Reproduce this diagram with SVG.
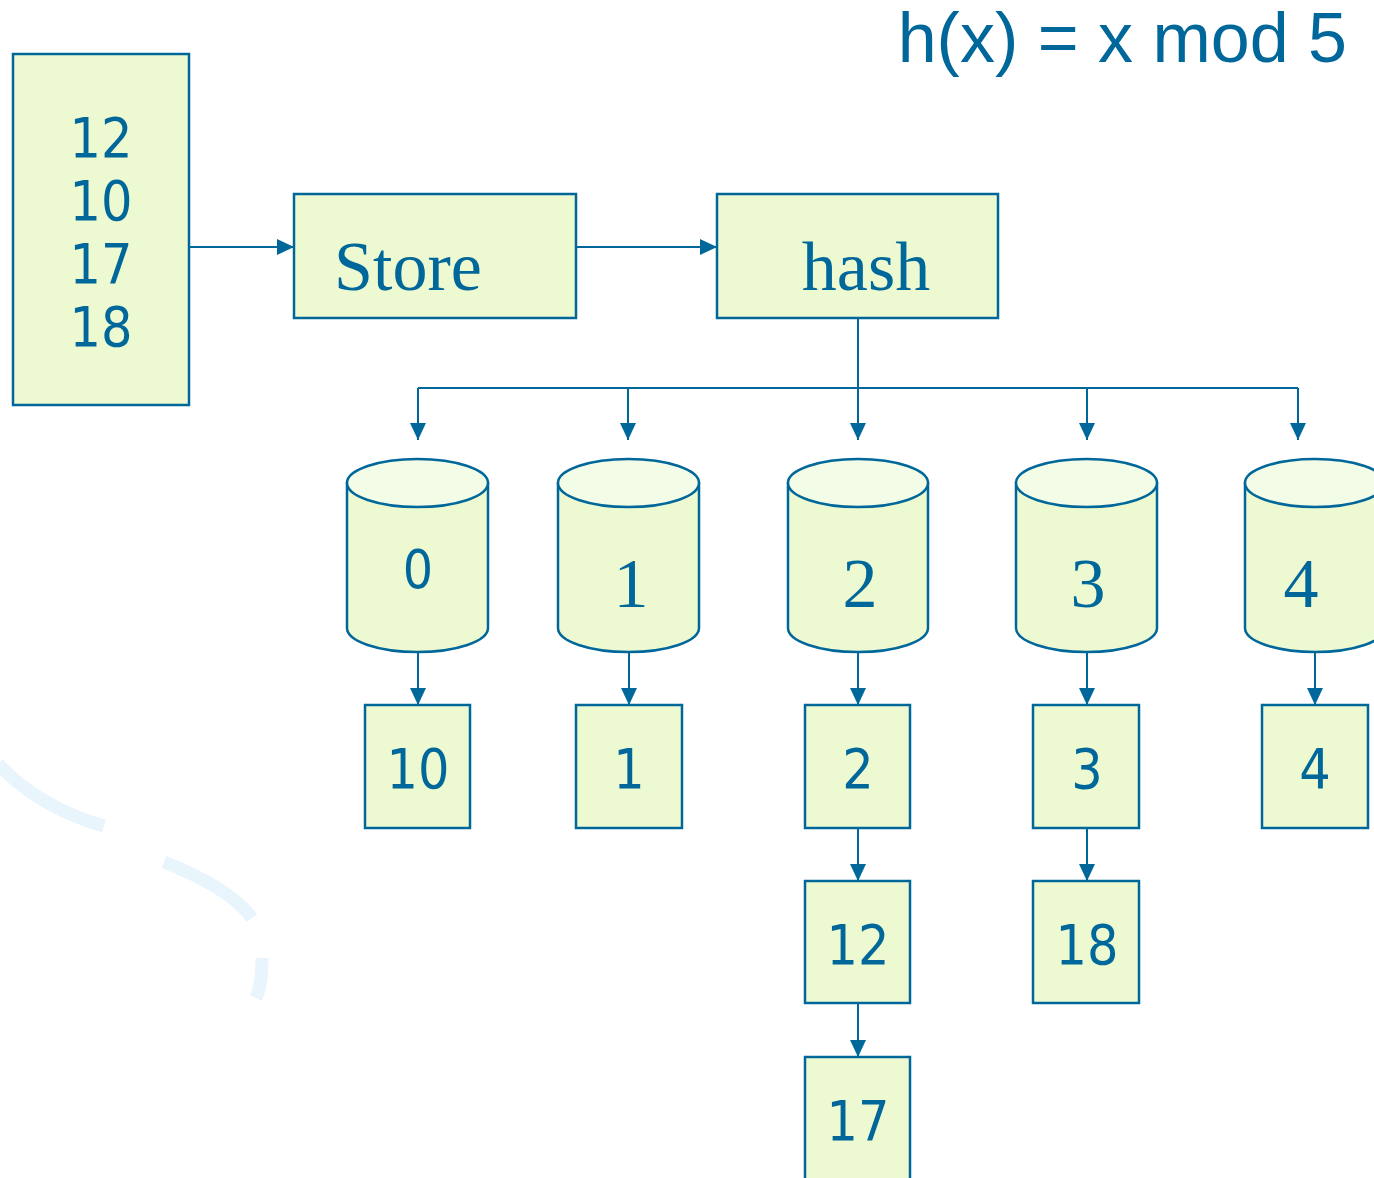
<svg xmlns="http://www.w3.org/2000/svg" width="1374" height="1178" viewBox="0 0 1374 1178">
<style>
.box{fill:#edf9d1;stroke:#00679a;stroke-width:2.5}
.cyl{fill:#edf9d1;stroke:#00679a;stroke-width:2.5}
.top{fill:#f3fce6;stroke:#00679a;stroke-width:2.5}
.ln{fill:none;stroke:#00679a;stroke-width:2}
.sans{font-family:'DejaVu Sans Condensed','DejaVu Sans',sans-serif;font-stretch:condensed;fill:#00679a;font-size:55px;text-anchor:middle}
.serif{font-family:'Liberation Serif','Times New Roman',serif;fill:#00679a;font-size:70px;text-anchor:middle}
.sw{fill:none;stroke:#e8f5fd;stroke-width:13}
</style>
<defs>
<marker id="ah" viewBox="0 0 17 16" refX="17" refY="8" markerWidth="17" markerHeight="16" markerUnits="userSpaceOnUse" orient="auto">
<path d="M0,0 L17,8 L0,16 z" fill="#00679a"/>
</marker>
</defs>
<rect width="1374" height="1178" fill="#ffffff"/>
<g id="background">
<path class="sw" d="M-2,764 Q40,808 104,826"/>
<path class="sw" d="M164,862 Q230,888 252,918"/>
<path class="sw" d="M262,958 Q262,985 256,998"/>
</g>
<text x="1347" y="62" font-family="'Liberation Sans',Arial,sans-serif" font-size="70" fill="#00679a" text-anchor="end">h(x) = x mod 5</text>
<g id="connectors">
<path class="ln" d="M189,247 H294" marker-end="url(#ah)"/>
<path class="ln" d="M576,247 H717" marker-end="url(#ah)"/>
<path class="ln" d="M858,318 V388"/>
<path class="ln" d="M418,388 H1298"/>
<path class="ln" d="M418,388 V440" marker-end="url(#ah)"/>
<path class="ln" d="M628,388 V440" marker-end="url(#ah)"/>
<path class="ln" d="M858,388 V440" marker-end="url(#ah)"/>
<path class="ln" d="M1087,388 V440" marker-end="url(#ah)"/>
<path class="ln" d="M1298,388 V440" marker-end="url(#ah)"/>
<path class="ln" d="M418,652 V705" marker-end="url(#ah)"/>
<path class="ln" d="M629,652 V705" marker-end="url(#ah)"/>
<path class="ln" d="M858,652 V705" marker-end="url(#ah)"/>
<path class="ln" d="M1087,652 V705" marker-end="url(#ah)"/>
<path class="ln" d="M1315,652 V705" marker-end="url(#ah)"/>
<path class="ln" d="M858,828 V881" marker-end="url(#ah)"/>
<path class="ln" d="M1087,828 V881" marker-end="url(#ah)"/>
<path class="ln" d="M858,1003 V1057" marker-end="url(#ah)"/>
</g>
<g id="input">
<rect class="box" x="13" y="54" width="176" height="351"/>
<text class="sans" x="101" y="157">12</text>
<text class="sans" x="101" y="220">10</text>
<text class="sans" x="101" y="283">17</text>
<text class="sans" x="101" y="346">18</text>
</g>
<g id="store">
<rect class="box" x="294" y="194" width="282" height="124"/>
<text class="serif" x="408" y="290">Store</text>
</g>
<g id="hash">
<rect class="box" x="717" y="194" width="281" height="124"/>
<text class="serif" x="866" y="290">hash</text>
</g>
<g id="bucket0">
<path class="cyl" d="M347,483 V628 A70.5,24 0 0 0 488,628 V483 Z"/>
<ellipse class="top" cx="417.5" cy="483" rx="70.5" ry="24"/>
<text class="sans" x="418" y="588" style="font-size:53px;font-stretch:normal">0</text>
</g>
<g id="bucket1">
<path class="cyl" d="M558,483 V628 A70.5,24 0 0 0 699,628 V483 Z"/>
<ellipse class="top" cx="628.5" cy="483" rx="70.5" ry="24"/>
<text class="serif" x="631" y="607">1</text>
</g>
<g id="bucket2">
<path class="cyl" d="M788,483 V628 A70,24 0 0 0 928,628 V483 Z"/>
<ellipse class="top" cx="858" cy="483" rx="70" ry="24"/>
<text class="serif" x="860" y="607">2</text>
</g>
<g id="bucket3">
<path class="cyl" d="M1016,483 V628 A70.5,24 0 0 0 1157,628 V483 Z"/>
<ellipse class="top" cx="1086.5" cy="483" rx="70.5" ry="24"/>
<text class="serif" x="1088" y="607">3</text>
</g>
<g id="bucket4">
<path class="cyl" d="M1245,483 V628 A70,24 0 0 0 1385,628 V483 Z"/>
<ellipse class="top" cx="1315" cy="483" rx="70" ry="24"/>
<text class="serif" x="1301" y="607">4</text>
</g>
<g id="n10">
<rect class="box" x="365" y="705" width="105" height="123"/>
<text class="sans" x="418" y="788">10</text>
</g>
<g id="n1">
<rect class="box" x="576" y="705" width="106" height="123"/>
<text class="sans" x="629" y="788">1</text>
</g>
<g id="n2">
<rect class="box" x="805" y="705" width="105" height="123"/>
<text class="sans" x="858" y="788">2</text>
</g>
<g id="n3">
<rect class="box" x="1033" y="705" width="106" height="123"/>
<text class="sans" x="1087" y="788">3</text>
</g>
<g id="n4">
<rect class="box" x="1262" y="705" width="106" height="123"/>
<text class="sans" x="1315" y="788">4</text>
</g>
<g id="n12">
<rect class="box" x="805" y="881" width="105" height="122"/>
<text class="sans" x="858" y="964">12</text>
</g>
<g id="n18">
<rect class="box" x="1033" y="881" width="106" height="122"/>
<text class="sans" x="1087" y="964">18</text>
</g>
<g id="n17">
<rect class="box" x="805" y="1057" width="105" height="125"/>
<text class="sans" x="858" y="1140">17</text>
</g>
</svg>
